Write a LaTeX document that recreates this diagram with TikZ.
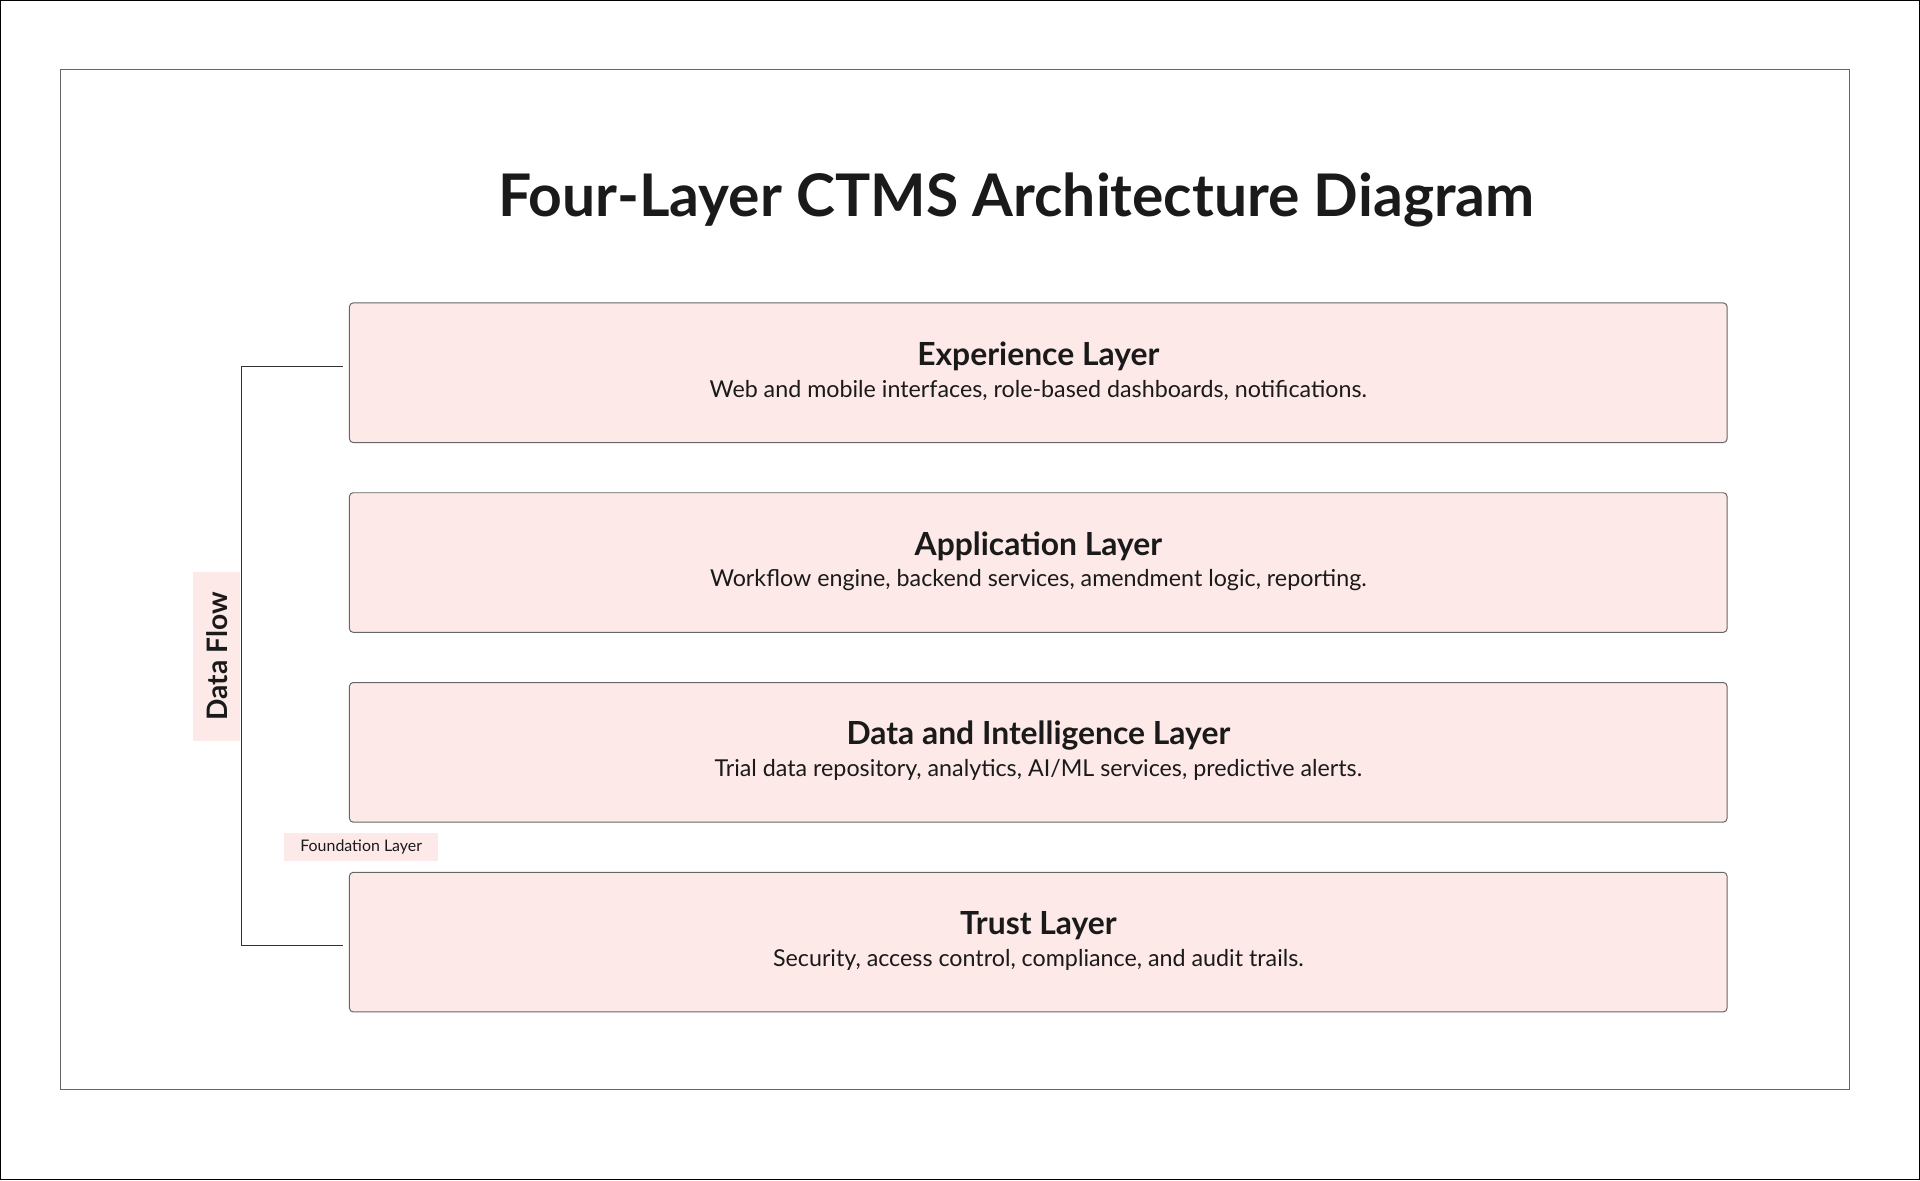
\documentclass[tikz,border=0pt]{standalone}
\usepackage{fontspec}
\setmainfont{Lato}
\definecolor{boxfill}{HTML}{FDE9E8}
\definecolor{txt}{HTML}{1A1A1A}
\begin{document}
\begin{tikzpicture}[x=1pt,y=-1pt,
  layer/.style={draw=black!60,line width=0.8pt,fill=boxfill,rounded corners=3pt,minimum width=1125pt,minimum height=114pt,anchor=north west,inner sep=0pt},
  ttl/.style={font=\fontsize{26}{30}\selectfont\bfseries,text=txt},
  sub/.style={font=\fontsize{19}{22}\selectfont,text=txt},
  conn/.style={draw=black!80,line width=0.9pt}]
\useasboundingbox (0,0) rectangle (1568,964);
\draw[black,line width=1pt] (0.5,0.5) rectangle (1567.5,963.5);
\draw[black!60,line width=0.8pt] (49,57) rectangle (1510,890);
\node[text=txt,font=\fontsize{48}{54}\selectfont\bfseries] (title) at (830,163) {Four-Layer CTMS Architecture Diagram};
\foreach \n/\y/\t/\s in {exp/247/Experience Layer/{Web and mobile interfaces, role-based dashboards, notifications.},
 app/402/Application Layer/{Workflow engine, backend services, amendment logic, reporting.},
 dat/557/Data and Intelligence Layer/{Trial data repository, analytics, AI/ML services, predictive alerts.},
 tru/712/Trust Layer/{Security, access control, compliance, and audit trails.}}{
  \node[layer] (\n) at (285,\y) {};
  \node[ttl] (\n t) at (848,\y+44) {\t};
  \node[sub] (\n s) at (848,\y+72) {\s};
}
\coordinate (top) at (280,299);
\coordinate (bot) at (280,772);
\draw[conn] (top) -- (197,299) -- (197,772) -- (bot);
\node[fill=boxfill,rotate=90,font=\fontsize{23}{26}\selectfont\bfseries,text=txt,minimum width=138pt,minimum height=38pt,inner sep=2pt] (df) at (177,536) {Data Flow};
\node[fill=boxfill,font=\fontsize{13}{15}\selectfont,text=txt,minimum width=126pt,minimum height=23pt,inner sep=2pt] (fl) at (295,692) {Foundation Layer};
\end{tikzpicture}
\end{document}
